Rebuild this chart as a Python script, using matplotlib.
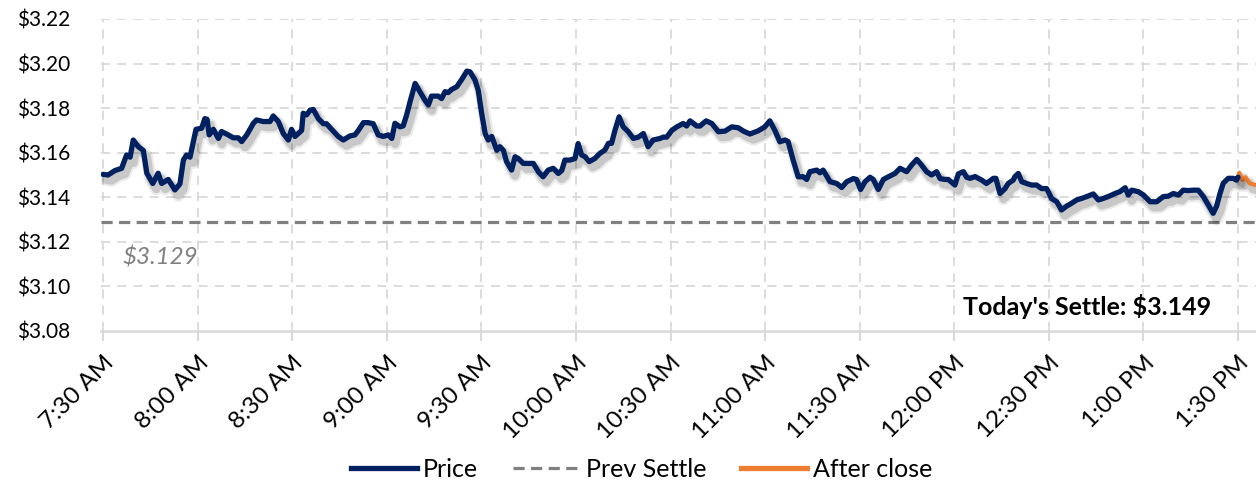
import matplotlib
matplotlib.use("Agg")
import matplotlib.pyplot as plt
import matplotlib.patheffects as pe
from matplotlib.lines import Line2D

# ---- data ----
# minutes after 7:30 AM
price_min = [0, 1.6, 3.8, 5.9, 7.5, 8.6, 9.6, 11.2, 12.8, 13.9, 15.8, 17.5, 18.6, 20.7, 22.8,
             24.4, 25.5, 26.5, 27.6, 29.5, 31.3, 32.3, 33.0, 33.7, 35.0, 36.6, 37.6, 39.7, 41.3,
             42.9, 44.0, 45.6, 47.7, 48.7, 50.8, 53.0, 54.0, 55.6, 57.2, 58.8, 59.8, 60.9, 63.0,
             63.5, 64.6, 65.7, 66.7, 68.3, 69.9, 70.9, 72.5, 74.6, 76.2, 78.3, 79.9, 81.0, 82.6,
             84.1, 85.7, 87.3, 88.9, 90.5, 91.6, 92.6, 94.2, 95.2, 96.3, 97.4, 99.0, 100.5, 102.1,
             103.2, 104.2, 106.3, 107.4, 108.5, 109.5, 110.6, 112.2, 113.8, 115.4, 116.4, 118.0,
             119.0, 120.1, 121.2, 122.2, 123.3, 124.9, 125.9, 127.0, 128.0, 129.6, 130.7, 131.7,
             133.3, 136.5, 138.1, 139.6, 141.2, 142.8, 144.4, 145.5, 146.5, 148.1, 149.7, 150.7,
             151.8, 152.9, 154.2, 156.0, 157.6, 159.2, 160.3, 161.3, 162.4, 163.7, 165.0, 166.6,
             168.2, 169.8, 171.4, 172.9, 174.5, 176.7, 177.7, 178.8, 180.4, 182.0, 184.0, 185.1,
             186.2, 188.3, 189.4, 191.3, 193.1, 195.2, 197.3, 199.4, 201.5, 203.1, 205.2, 207.8,
             209.9, 211.5, 213.1, 214.7, 216.3, 217.3, 218.9, 220.5, 222.1, 223.2, 224.2, 226.4,
             227.4, 228.4, 230.6, 232.7, 234.3, 235.9, 238.0, 239.0, 240.3, 241.7, 243.3, 244.3,
             245.9, 247.5, 249.1, 251.2, 252.8, 254.9, 256.5, 258.1, 259.6, 261.2, 262.8, 264.4,
             265.5, 267.0, 268.1, 270.2, 271.3, 272.9, 273.9, 275.0, 276.6, 278.7, 280.2, 282.4,
             283.2, 284.5, 286.1, 287.1, 288.7, 289.2, 290.3, 291.4, 292.9, 294.5, 296.1, 297.7,
             299.3, 300.9, 302.5, 304.0, 305.6, 307.2, 308.8, 310.4, 312.0, 314.1, 315.7, 317.3,
             318.8, 321.0, 322.5, 324.2, 325.2, 326.3, 328.4, 330.0, 332.1, 334.2, 336.3, 337.9,
             339.5, 341.1, 342.6, 344.2, 345.8, 347.4, 349.0, 350.6, 352.1, 353.2, 354.3, 355.3,
             356.9, 358.5, 359.5, 360.0]
price_val = [3.1503, 3.1500, 3.1520, 3.1530, 3.1590, 3.1580, 3.1657, 3.1627, 3.1610, 3.1508,
             3.1462, 3.1508, 3.1462, 3.1480, 3.1433, 3.1460, 3.1567, 3.1590, 3.1580, 3.1705,
             3.1710, 3.1753, 3.1750, 3.1680, 3.1705, 3.1664, 3.1695, 3.1680, 3.1667, 3.1667,
             3.1650, 3.1680, 3.1732, 3.1747, 3.1740, 3.1740, 3.1765, 3.1740, 3.1686, 3.1657,
             3.1705, 3.1673, 3.1700, 3.1777, 3.1770, 3.1791, 3.1794, 3.1753, 3.1730, 3.1730,
             3.1705, 3.1673, 3.1657, 3.1675, 3.1680, 3.1700, 3.1735, 3.1735, 3.1730, 3.1680,
             3.1673, 3.1680, 3.1664, 3.1732, 3.1716, 3.1720, 3.1769, 3.1829, 3.1911, 3.1874,
             3.1836, 3.1814, 3.1854, 3.1854, 3.1843, 3.1874, 3.1870, 3.1884, 3.1896, 3.1929,
             3.1966, 3.1963, 3.1926, 3.1881, 3.1777, 3.1686, 3.1657, 3.1673, 3.1611, 3.1627,
             3.1610, 3.1560, 3.1522, 3.1582, 3.1574, 3.1552, 3.1552, 3.1514, 3.1492, 3.1522,
             3.1530, 3.1507, 3.1520, 3.1567, 3.1567, 3.1574, 3.1641, 3.1590, 3.1582, 3.1560,
             3.1574, 3.1597, 3.1612, 3.1642, 3.1642, 3.1701, 3.1761, 3.1716, 3.1694, 3.1664,
             3.1670, 3.1686, 3.1627, 3.1657, 3.1664, 3.1670, 3.1670, 3.1700, 3.1716, 3.1731,
             3.1720, 3.1743, 3.1720, 3.1720, 3.1743, 3.1731, 3.1694, 3.1697, 3.1716, 3.1712,
             3.1697, 3.1684, 3.1698, 3.1716, 3.1743, 3.1700, 3.1649, 3.1657, 3.1650, 3.1567,
             3.1492, 3.1492, 3.1480, 3.1515, 3.1522, 3.1510, 3.1522, 3.1470, 3.1462, 3.1444,
             3.1470, 3.1484, 3.1480, 3.1435, 3.1470, 3.1490, 3.1480, 3.1435, 3.1480, 3.1492,
             3.1507, 3.1530, 3.1515, 3.1545, 3.1570, 3.1545, 3.1515, 3.1500, 3.1515, 3.1484,
             3.1480, 3.1480, 3.1455, 3.1505, 3.1515, 3.1490, 3.1485, 3.1493, 3.1477, 3.1462,
             3.1485, 3.1485, 3.1417, 3.1439, 3.1462, 3.1477, 3.1492, 3.1507, 3.1470, 3.1462,
             3.1455, 3.1455, 3.1439, 3.1439, 3.1394, 3.1380, 3.1343, 3.1360, 3.1373, 3.1388,
             3.1395, 3.1403, 3.1415, 3.1388, 3.1395, 3.1403, 3.1417, 3.1425, 3.1443, 3.1410,
             3.1432, 3.1425, 3.1410, 3.1380, 3.1380, 3.1403, 3.1405, 3.1417, 3.1410, 3.1432,
             3.1430, 3.1432, 3.1432, 3.1403, 3.1365, 3.1328, 3.1360, 3.1418, 3.1463, 3.1485,
             3.1485, 3.1477, 3.1490]

after_min = [360.0, 360.4, 361.4, 362.4, 363.7, 365.6]
after_val = [3.1490, 3.1510, 3.1477, 3.1490, 3.1462, 3.1455]

prev_settle = 3.129
settle = 3.149

tick_minutes = [0, 30, 60, 90, 120, 150, 180, 210, 240, 270, 300, 330, 360]
tick_labels = ["7:30 AM", "8:00 AM", "8:30 AM", "9:00 AM", "9:30 AM", "10:00 AM", "10:30 AM",
               "11:00 AM", "11:30 AM", "12:00 PM", "12:30 PM", "1:00 PM", "1:30 PM"]
y_ticks = [3.08, 3.10, 3.12, 3.14, 3.16, 3.18, 3.20, 3.22]

# ---- style ----
FONT = ["Lato", "DejaVu Sans"]
plt.rcParams["font.family"] = FONT
NAVY = "#002060"
ORANGE = "#ED7D31"
GRAY = "#808080"
GRID = "#d9d9d9"

fig = plt.figure(figsize=(12.56, 4.84), dpi=100)
ax = fig.add_axes([101 / 1256, 1 - 331 / 484, 1 - 101 / 1256, (331 - 19) / 484])

# grid
for yv in y_ticks[1:]:
    ax.axhline(yv, color=GRID, lw=1.3, ls=(0, (5, 4)), zorder=0)
for xv in tick_minutes:
    ax.axvline(xv, color=GRID, lw=1.3, ls=(0, (5, 4)), zorder=0)

# prev settle
ax.axhline(prev_settle, color=GRAY, lw=2.3, ls=(0, (3.5, 2)), zorder=2)

shadow = [pe.SimpleLineShadow(offset=(2.5, -4), shadow_color="#000000", alpha=0.08, linewidth=9),
          pe.SimpleLineShadow(offset=(2.5, -4), shadow_color="#000000", alpha=0.15, linewidth=6),
          pe.Normal()]
ax.plot(after_min, after_val, color=ORANGE, lw=3.0, zorder=3, solid_capstyle="round",
        path_effects=shadow)
ax.plot(price_min, price_val, color=NAVY, lw=3.8, zorder=4, solid_joinstyle="round",
        solid_capstyle="round", path_effects=shadow)

ax.set_xlim(-0.63, 365.7)
ax.set_ylim(3.08, 3.22)
ax.set_yticks(y_ticks)
ax.set_yticklabels([f"${v:.2f}" for v in y_ticks])
ax.set_xticks(tick_minutes)
ax.set_xticklabels(tick_labels, rotation=45, ha="right", va="top", rotation_mode="anchor")

for s in ["top", "right", "left"]:
    ax.spines[s].set_visible(False)
ax.spines["bottom"].set_color(GRID)
ax.spines["bottom"].set_linewidth(1.8)
ax.tick_params(axis="y", length=0, pad=22, labelsize=15, labelcolor="#000000")
ax.tick_params(axis="x", length=7, width=1.5, color=GRID, pad=8, labelsize=17.5)

ax.text(6.3, 3.1132, f"${prev_settle:.3f}", color=GRAY, style="italic", fontsize=17.4,
        ha="left", va="center")
ax.text(351.4, 3.0912, f"Today's Settle: ${settle:.3f}", fontweight="bold", fontsize=18,
        ha="right", va="center")

handles = [Line2D([], [], color=NAVY, lw=3.8),
           Line2D([], [], color=GRAY, lw=2.3, ls=(0, (3.5, 2))),
           Line2D([], [], color=ORANGE, lw=3.8)]
fig.legend(handles, ["Price", "Prev Settle", "After close"], loc="lower center",
           bbox_to_anchor=(0.511, -0.04), ncol=3, frameon=False, fontsize=18,
           handlelength=2.64, columnspacing=1.4, handletextpad=0.25)

fig.savefig("out.png", dpi=100)
